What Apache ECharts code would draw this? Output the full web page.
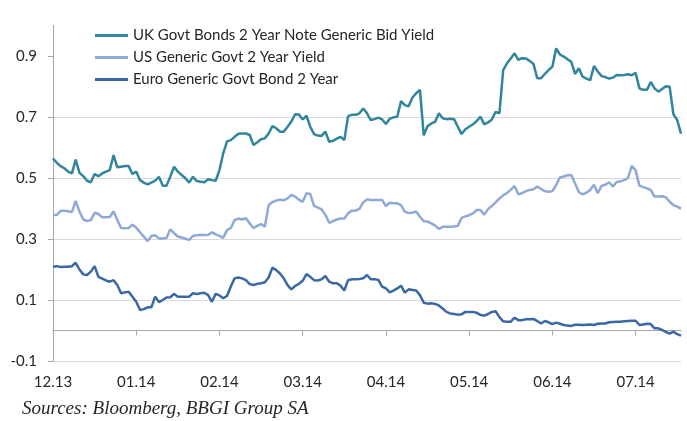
<!DOCTYPE html>
<html>
<head>
<meta charset="utf-8">
<script src="https://cdn.jsdelivr.net/npm/echarts@6/dist/echarts.min.js"></script>
<style>
  html, body { margin: 0; padding: 0; background: #fff; }
  #chart { width: 687px; height: 421px; }
</style>
</head>
<body>
<div id="chart"></div>
<script>
// x axis tick labels, one every 22 trading days
var tickLabels = ['12.13', '01.14', '02.14', '03.14', '04.14', '05.14', '06.14', '07.14'];
var yTicks = [-0.1, 0.1, 0.3, 0.5, 0.7, 0.9];

var seriesNames = [
    'UK Govt Bonds 2 Year Note Generic Bid Yield',
    'US Generic Govt 2 Year Yield',
    'Euro Generic Govt Bond 2 Year'
];

// UK 2y
var ukYield = [
    0.564, 0.550, 0.539, 0.532, 0.521, 0.515, 0.560, 0.517, 0.506, 0.491,
    0.486, 0.513, 0.506, 0.515, 0.521, 0.526, 0.575, 0.535, 0.537, 0.539,
    0.539, 0.513, 0.521, 0.493, 0.485, 0.479, 0.485, 0.491, 0.504, 0.475,
    0.475, 0.504, 0.537, 0.521, 0.510, 0.499, 0.485, 0.504, 0.490, 0.488,
    0.486, 0.496, 0.493, 0.491, 0.526, 0.581, 0.620, 0.624, 0.635, 0.645,
    0.646, 0.646, 0.641, 0.608, 0.617, 0.627, 0.630, 0.646, 0.670, 0.663,
    0.652, 0.652, 0.668, 0.685, 0.709, 0.708, 0.692, 0.704, 0.668, 0.644,
    0.639, 0.638, 0.652, 0.619, 0.622, 0.629, 0.635, 0.624, 0.703, 0.707,
    0.707, 0.712, 0.728, 0.712, 0.690, 0.693, 0.698, 0.692, 0.677, 0.694,
    0.699, 0.701, 0.752, 0.739, 0.735, 0.764, 0.778, 0.789, 0.640, 0.670,
    0.679, 0.684, 0.712, 0.696, 0.693, 0.694, 0.693, 0.668, 0.644, 0.660,
    0.668, 0.676, 0.687, 0.701, 0.676, 0.682, 0.692, 0.717, 0.712, 0.854,
    0.876, 0.892, 0.909, 0.887, 0.893, 0.892, 0.884, 0.874, 0.827, 0.827,
    0.841, 0.854, 0.865, 0.925, 0.905, 0.898, 0.889, 0.881, 0.841, 0.860,
    0.832, 0.826, 0.821, 0.867, 0.849, 0.834, 0.831, 0.826, 0.829, 0.838,
    0.837, 0.838, 0.840, 0.837, 0.845, 0.794, 0.789, 0.789, 0.815, 0.794,
    0.783, 0.792, 0.801, 0.799, 0.709, 0.690, 0.645
];

// US 2y
var usYield = [
    0.379, 0.379, 0.392, 0.393, 0.391, 0.388, 0.425, 0.390, 0.364, 0.359,
    0.362, 0.386, 0.382, 0.371, 0.371, 0.372, 0.390, 0.362, 0.336, 0.335,
    0.336, 0.347, 0.338, 0.322, 0.308, 0.293, 0.310, 0.312, 0.302, 0.302,
    0.303, 0.332, 0.319, 0.308, 0.305, 0.301, 0.297, 0.310, 0.312, 0.314,
    0.313, 0.313, 0.322, 0.315, 0.310, 0.304, 0.329, 0.336, 0.362, 0.367,
    0.364, 0.368, 0.351, 0.336, 0.343, 0.349, 0.340, 0.411, 0.421, 0.426,
    0.429, 0.427, 0.433, 0.445, 0.439, 0.429, 0.422, 0.450, 0.448, 0.409,
    0.403, 0.397, 0.379, 0.353, 0.359, 0.364, 0.367, 0.367, 0.384, 0.393,
    0.393, 0.399, 0.420, 0.430, 0.428, 0.428, 0.428, 0.428, 0.408, 0.419,
    0.417, 0.417, 0.411, 0.390, 0.385, 0.386, 0.390, 0.373, 0.358, 0.357,
    0.351, 0.344, 0.333, 0.340, 0.340, 0.340, 0.341, 0.343, 0.369, 0.374,
    0.378, 0.384, 0.395, 0.395, 0.380, 0.398, 0.408, 0.420, 0.433, 0.443,
    0.451, 0.461, 0.474, 0.447, 0.450, 0.457, 0.461, 0.463, 0.472, 0.464,
    0.457, 0.455, 0.457, 0.477, 0.502, 0.505, 0.509, 0.510, 0.482, 0.454,
    0.446, 0.452, 0.461, 0.478, 0.450, 0.474, 0.478, 0.486, 0.472, 0.487,
    0.489, 0.493, 0.500, 0.540, 0.525, 0.475, 0.470, 0.466, 0.461, 0.439,
    0.439, 0.440, 0.437, 0.422, 0.411, 0.406, 0.400
];

// Euro 2y
var euroYield = [
    0.209, 0.211, 0.208, 0.209, 0.209, 0.211, 0.222, 0.200, 0.184, 0.182,
    0.193, 0.211, 0.176, 0.170, 0.164, 0.160, 0.165, 0.149, 0.122, 0.125,
    0.127, 0.111, 0.094, 0.067, 0.070, 0.076, 0.076, 0.111, 0.093, 0.100,
    0.108, 0.109, 0.120, 0.111, 0.111, 0.111, 0.111, 0.122, 0.120, 0.122,
    0.124, 0.116, 0.094, 0.120, 0.115, 0.106, 0.113, 0.144, 0.171, 0.174,
    0.171, 0.165, 0.152, 0.149, 0.153, 0.155, 0.158, 0.174, 0.206, 0.198,
    0.187, 0.171, 0.149, 0.135, 0.146, 0.153, 0.163, 0.185, 0.176, 0.165,
    0.164, 0.168, 0.179, 0.160, 0.155, 0.155, 0.147, 0.131, 0.165, 0.168,
    0.168, 0.169, 0.171, 0.182, 0.168, 0.168, 0.166, 0.144, 0.138, 0.125,
    0.131, 0.138, 0.147, 0.124, 0.135, 0.133, 0.131, 0.116, 0.091, 0.088,
    0.089, 0.087, 0.082, 0.072, 0.061, 0.056, 0.054, 0.052, 0.053, 0.061,
    0.061, 0.061, 0.058, 0.051, 0.049, 0.054, 0.061, 0.063, 0.044, 0.030,
    0.029, 0.029, 0.042, 0.034, 0.034, 0.037, 0.037, 0.038, 0.031, 0.023,
    0.031, 0.027, 0.021, 0.026, 0.022, 0.018, 0.016, 0.015, 0.019, 0.019,
    0.018, 0.019, 0.020, 0.018, 0.022, 0.023, 0.023, 0.027, 0.028, 0.029,
    0.029, 0.030, 0.031, 0.032, 0.032, 0.018, 0.020, 0.022, 0.021, 0.007,
    0.007, 0.002, -0.005, -0.010, -0.004, -0.012, -0.017
];

var days = ukYield.map(function (v, i) { return i; });
var ticksEvery = 22;

var chart = echarts.init(document.getElementById('chart'));

function lineSeries(name, data, color) {
    return {
        name: name,
        type: 'line',
        data: data,
        symbol: 'none',
        smooth: false,
        lineStyle: { color: color, width: 2.5 },
        itemStyle: { color: color }
    };
}

var option = {
    animation: false,
    backgroundColor: '#fff',
    textStyle: { fontFamily: 'Lato' },
    grid: { left: 53, right: 6, top: 25.5, bottom: 60 },
    legend: {
        orient: 'vertical',
        left: 90,
        top: 23,
        icon: 'rect',
        itemWidth: 33,
        itemHeight: 3,
        itemGap: 7,
        textStyle: { fontFamily: 'Lato', fontSize: 15, color: '#262626', lineHeight: 15 },
        data: seriesNames
    },
    xAxis: {
        type: 'category',
        data: days,
        boundaryGap: false,
        axisLine: { lineStyle: { color: '#a6a6a6', width: 1 } },
        axisTick: { show: true, interval: ticksEvery - 1, length: 5, lineStyle: { color: '#a6a6a6' } },
        axisLabel: {
            interval: ticksEvery - 1,
            margin: 14,
            fontFamily: 'Lato',
            fontSize: 15,
            color: '#262626',
            formatter: function (v, i) {
                return tickLabels[Math.round(i / ticksEvery)] || '';
            }
        },
        splitLine: { show: false }
    },
    yAxis: {
        type: 'value',
        min: -0.1,
        max: 1.0,
        interval: 0.2,
        axisLine: { show: true, lineStyle: { color: '#a6a6a6', width: 1 } },
        axisTick: { show: true, length: 5, customValues: yTicks, lineStyle: { color: '#a6a6a6' } },
        axisLabel: {
            customValues: yTicks,
            margin: 16,
            fontFamily: 'Lato',
            fontSize: 15,
            color: '#262626',
            formatter: function (v) { return v.toFixed(1); }
        },
        splitLine: { show: true, showMaxLine: false, lineStyle: { color: '#d9d9d9', width: 1 } }
    },
    graphic: [{
        type: 'text',
        left: 22,
        top: 399,
        style: {
            text: 'Sources: Bloomberg, BBGI Group SA',
            font: 'italic 19px "Liberation Serif"',
            fill: '#262626'
        }
    }],
    series: [
        lineSeries(seriesNames[0], ukYield, '#31859C'),
        lineSeries(seriesNames[1], usYield, '#8EA9D6'),
        lineSeries(seriesNames[2], euroYield, '#3A68A5')
    ]
};

chart.setOption(option);
</script>
</body>
</html>
